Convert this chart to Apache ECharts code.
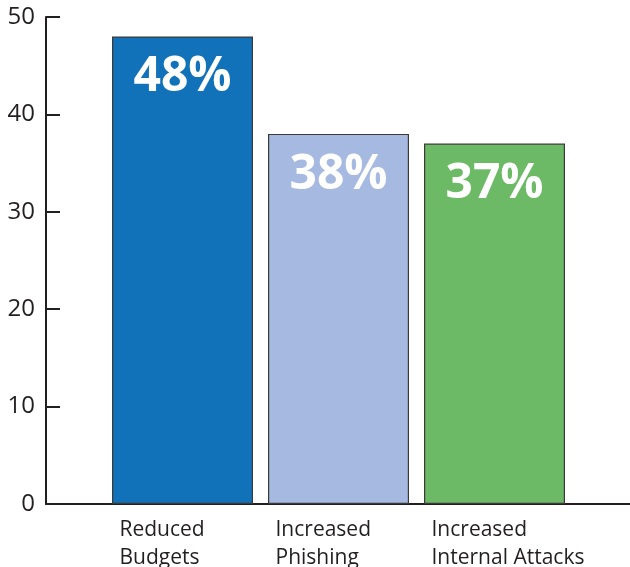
<!DOCTYPE html>
<html>
<head>
<meta charset="utf-8">
<script src="https://cdn.jsdelivr.net/npm/echarts@6/dist/echarts.min.js"></script>
<style>html,body{margin:0;padding:0;background:#fff}#c{width:630px;height:567px}</style>
</head>
<body>
<div id="c"></div>
<script>
const categories = ['Reduced\nBudgets', 'Increased\nPhishing', 'Increased\nInternal Attacks'];
const values = [48, 38, 37];
const barColors = ['#1172ba', '#a6b9e0', '#6cb966'];
const yTicks = { min: 0, max: 50, interval: 10 };

const ink = '#231f20';
const chart = echarts.init(document.getElementById('c'), null, { renderer: 'canvas' });
chart.setOption({
  animation: false,
  backgroundColor: '#fff',
  grid: [
    { left: 46, right: 0, top: 17, bottom: 63, outerBoundsMode: 'none' },
    { left: 104.5, width: 468, top: 17, bottom: 63, outerBoundsMode: 'none' },
    { left: 41.5, width: 468, top: 17, bottom: 63, outerBoundsMode: 'none' }
  ],
  xAxis: [
    { type: 'category', gridIndex: 0, data: categories, axisLine: { lineStyle: { color: ink, width: 2 } },
      axisTick: { show: false }, axisLabel: { show: false } },
    { type: 'category', gridIndex: 1, data: categories, axisLine: { show: false }, axisTick: { show: false },
      axisLabel: { show: false } },
    { type: 'category', gridIndex: 2, data: categories, axisLine: { show: false }, axisTick: { show: false },
      axisLabel: { interval: 0, align: 'left', margin: 12, fontFamily: 'Open Sans', fontSize: 21,
        lineHeight: 28, color: ink, hideOverlap: false } }
  ],
  yAxis: [
    { type: 'value', gridIndex: 0, min: yTicks.min, max: yTicks.max, interval: yTicks.interval,
      axisLine: { show: true, lineStyle: { color: ink, width: 2 } },
      axisTick: { show: true, inside: true, length: 14, lineStyle: { color: ink, width: 2 } },
      splitLine: { show: false },
      axisLabel: { margin: 11, fontFamily: 'Open Sans', fontSize: 24, color: ink } },
    { type: 'value', gridIndex: 1, min: yTicks.min, max: yTicks.max, show: false, splitLine: { show: false } },
    { type: 'value', gridIndex: 2, min: yTicks.min, max: yTicks.max, show: false, splitLine: { show: false } }
  ],
  series: [{
    type: 'bar', xAxisIndex: 1, yAxisIndex: 1, barWidth: 141,
    data: values.map((v, i) => ({ value: v, itemStyle: { color: barColors[i] } })),
    itemStyle: { borderColor: '#3a3a3a', borderWidth: 1.2 },
    label: { show: true, position: 'insideTop', distance: 17, formatter: '{c}%', color: '#fff',
      fontFamily: 'Open Sans', fontWeight: 'bold', fontSize: 48 }
  }]
});
</script>
</body>
</html>
